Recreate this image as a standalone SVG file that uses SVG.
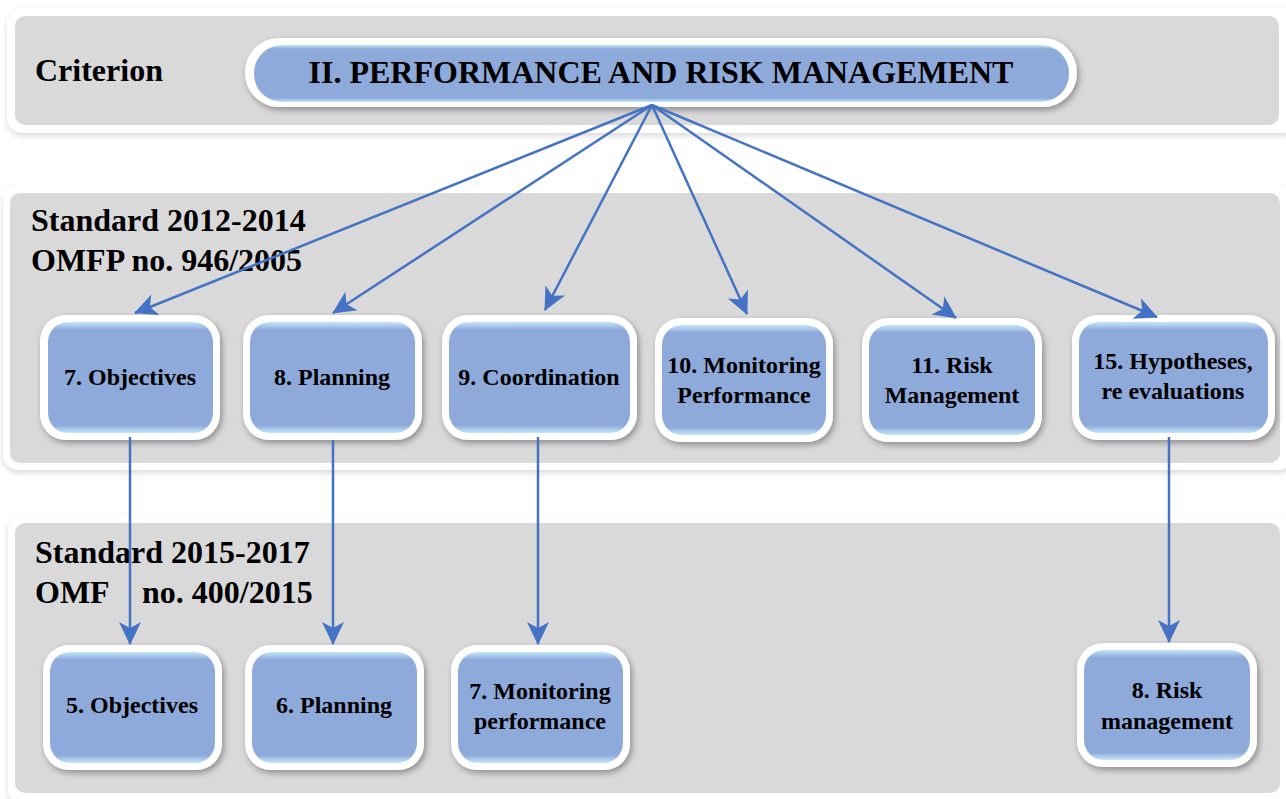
<svg xmlns="http://www.w3.org/2000/svg" width="1286" height="799" viewBox="0 0 1286 799">
<defs>
<style>
.pw{fill:#ffffff;}
.pg{fill:#d9d9d9;}
.lbl{font-family:"Liberation Serif","Times New Roman",serif;font-weight:bold;font-size:32px;fill:#000;}
.nt{font-family:"Liberation Serif","Times New Roman",serif;font-weight:bold;font-size:24px;fill:#000;text-anchor:middle;}
.ttl{font-size:32px;}
.ow{fill:#ffffff;}
.ib{fill:url(#bg);}
.cn{stroke:#4472c4;stroke-width:2.5;fill:none;marker-end:url(#ah);}
</style>
<linearGradient id="bg" x1="0" y1="0" x2="0" y2="1">
<stop offset="0" stop-color="#c4e6fc"/>
<stop offset="0.07" stop-color="#8eaadb"/>
<stop offset="0.93" stop-color="#8eaadb"/>
<stop offset="1" stop-color="#c4e6fc"/>
</linearGradient>
<filter id="sh" x="-10%" y="-10%" width="125%" height="130%">
<feDropShadow dx="2" dy="3" stdDeviation="3" flood-color="#000" flood-opacity="0.35"/>
</filter>
<filter id="psh" x="-5%" y="-10%" width="110%" height="125%">
<feDropShadow dx="0" dy="3" stdDeviation="3" flood-color="#000" flood-opacity="0.15"/>
</filter>
<marker id="ah" viewBox="0 0 24 24" refX="23" refY="12" markerWidth="24" markerHeight="24" markerUnits="userSpaceOnUse" orient="auto">
<path d="M1,1 L24,12 L1,23 L7,12 Z" fill="#4472c4"/>
</marker>
</defs>

<g id="panel-criterion">
<rect class="pw" x="7" y="8" width="1290" height="125" rx="16" filter="url(#psh)"/>
<rect class="pg" x="15" y="16" width="1264" height="109" rx="10"/>
<text class="lbl" x="35" y="81">Criterion</text>
</g>
<g id="panel-2012">
<rect class="pw" x="3" y="185" width="1290" height="285" rx="16" filter="url(#psh)"/>
<rect class="pg" x="10" y="193" width="1270" height="270" rx="10"/>
<text class="lbl" x="31" y="231">Standard 2012-2014</text>
<text class="lbl" x="31" y="271">OMFP no. 946/2005</text>
</g>
<g id="panel-2015">
<rect class="pw" x="8" y="515" width="1290" height="290" rx="16" filter="url(#psh)"/>
<rect class="pg" x="15" y="523" width="1265" height="270" rx="10"/>
<text class="lbl" x="35" y="563">Standard 2015-2017</text>
<text class="lbl" x="35" y="603">OMF <tspan x="142">no. 400/2015</tspan></text>
</g>

<g id="node-main">
<rect class="ow" x="245" y="38" width="832" height="69" rx="34" filter="url(#sh)"/>
<rect class="ib" x="254" y="45" width="815" height="57" rx="28"/>
<text class="nt ttl" x="661" y="83">II. PERFORMANCE AND RISK MANAGEMENT</text>
</g>

<g id="node-7-objectives">
<rect class="ow" x="40" y="315" width="180" height="125" rx="26" filter="url(#sh)"/>
<rect class="ib" x="48" y="322" width="165" height="111" rx="20"/>
<text class="nt" x="130" y="385">7. Objectives</text>
</g>
<g id="node-8-planning">
<rect class="ow" x="243" y="315" width="179" height="125" rx="26" filter="url(#sh)"/>
<rect class="ib" x="250" y="322" width="165" height="111" rx="20"/>
<text class="nt" x="332" y="385">8. Planning</text>
</g>
<g id="node-9-coordination">
<rect class="ow" x="442" y="315" width="195" height="125" rx="26" filter="url(#sh)"/>
<rect class="ib" x="449" y="322" width="181" height="111" rx="20"/>
<text class="nt" x="539" y="385">9. Coordination</text>
</g>
<g id="node-10-monitoring">
<rect class="ow" x="655" y="318" width="178" height="124" rx="26" filter="url(#sh)"/>
<rect class="ib" x="662" y="325" width="164" height="110" rx="20"/>
<text class="nt" x="744" y="373">10. Monitoring</text>
<text class="nt" x="744" y="403">Performance</text>
</g>
<g id="node-11-risk">
<rect class="ow" x="862" y="318" width="180" height="124" rx="26" filter="url(#sh)"/>
<rect class="ib" x="869" y="325" width="166" height="110" rx="20"/>
<text class="nt" x="952" y="373">11. Risk</text>
<text class="nt" x="952" y="403">Management</text>
</g>
<g id="node-15-hypotheses">
<rect class="ow" x="1072" y="315" width="203" height="125" rx="26" filter="url(#sh)"/>
<rect class="ib" x="1079" y="322" width="189" height="111" rx="20"/>
<text class="nt" x="1173" y="369">15. Hypotheses,</text>
<text class="nt" x="1173" y="399">re evaluations</text>
</g>

<g id="node-5-objectives">
<rect class="ow" x="43" y="645" width="179" height="125" rx="26" filter="url(#sh)"/>
<rect class="ib" x="50" y="652" width="165" height="111" rx="20"/>
<text class="nt" x="132" y="713">5. Objectives</text>
</g>
<g id="node-6-planning">
<rect class="ow" x="245" y="645" width="179" height="125" rx="26" filter="url(#sh)"/>
<rect class="ib" x="252" y="652" width="165" height="111" rx="20"/>
<text class="nt" x="334" y="713">6. Planning</text>
</g>
<g id="node-7-monitoring">
<rect class="ow" x="451" y="645" width="179" height="125" rx="26" filter="url(#sh)"/>
<rect class="ib" x="458" y="652" width="165" height="111" rx="20"/>
<text class="nt" x="540" y="699">7. Monitoring</text>
<text class="nt" x="540" y="729">performance</text>
</g>
<g id="node-8-risk">
<rect class="ow" x="1077" y="643" width="180" height="124" rx="26" filter="url(#sh)"/>
<rect class="ib" x="1084" y="650" width="166" height="110" rx="20"/>
<text class="nt" x="1167" y="698">8. Risk</text>
<text class="nt" x="1167" y="729">management</text>
</g>

<g id="connectors">
<line class="cn" x1="652" y1="105" x2="135" y2="313"/>
<line class="cn" x1="652" y1="105" x2="333" y2="313"/>
<line class="cn" x1="652" y1="105" x2="545" y2="310"/>
<line class="cn" x1="652" y1="105" x2="747" y2="314"/>
<line class="cn" x1="652" y1="105" x2="956" y2="318"/>
<line class="cn" x1="652" y1="105" x2="1157" y2="317"/>
<line class="cn" x1="130" y1="437" x2="130" y2="644"/>
<line class="cn" x1="333" y1="440" x2="333" y2="644"/>
<line class="cn" x1="538" y1="437" x2="538" y2="644"/>
<line class="cn" x1="1169" y1="437" x2="1169" y2="642"/>
</g>
</svg>
